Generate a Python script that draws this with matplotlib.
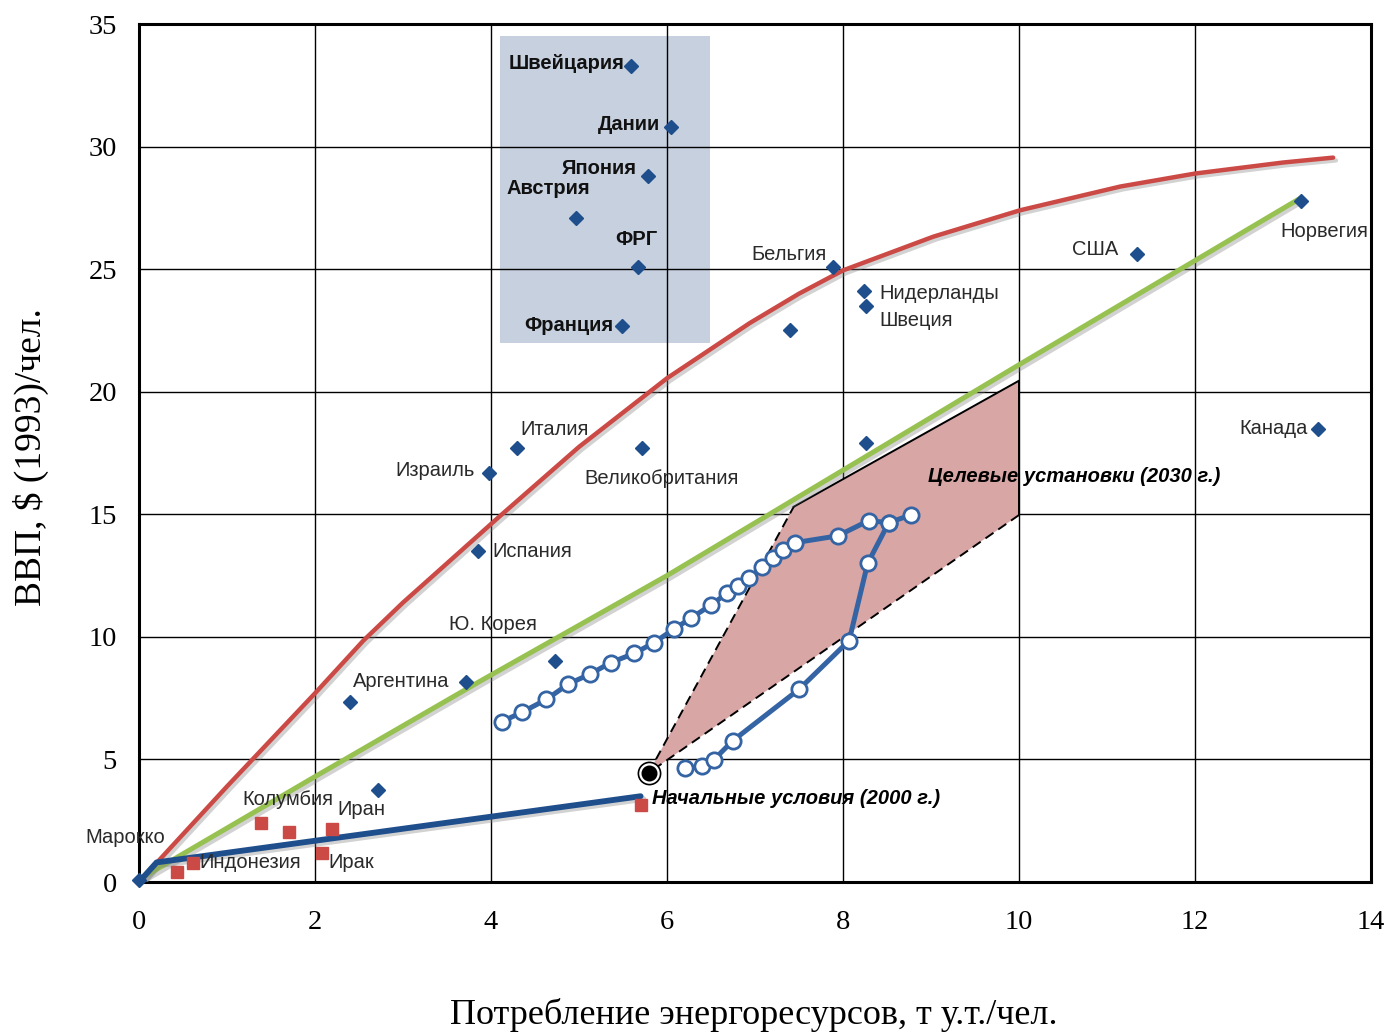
import numpy as np
import matplotlib
matplotlib.use('Agg')
import matplotlib.pyplot as plt
import matplotlib.patches as patches
import matplotlib.patheffects as pe

# --- data ---
# red curve (upper envelope)
red_x = [0, 1, 2, 2.55, 3, 3.5, 4.08, 5, 6, 6.94, 7.5, 8, 9.03, 10.01, 11.15, 12, 13, 13.57]
red_y = [0, 3.9, 7.7, 9.85, 11.4, 13.0, 14.86, 17.75, 20.55, 22.8, 24.0, 24.95, 26.33, 27.4, 28.37, 28.9, 29.35, 29.55]
# green line
green_x = [0, 2, 3.88, 6, 8, 10, 13.2]
green_y = [0.1, 4.3, 8.2, 12.5, 16.8, 21.1, 27.9]
# blue straight line
blue_x = [0, 0.2, 5.7]
blue_y = [0, 0.8, 3.5]

# blue diamonds (countries)
diam_x = [5.59, 6.05, 5.78, 4.97, 5.67, 5.49, 7.89, 7.40, 8.24, 8.26, 11.34, 13.21, 13.40,
          8.26, 4.29, 5.72, 3.98, 3.85, 4.73, 3.72, 2.40, 2.72, 0.0]
diam_y = [33.3, 30.8, 28.8, 27.1, 25.1, 22.7, 25.1, 22.5, 24.1, 23.5, 25.6, 27.8, 18.5,
          17.9, 17.7, 17.7, 16.7, 13.5, 9.0, 8.17, 7.36, 3.75, 0.1]
# red squares (developing countries)
sq_x = [1.39, 1.70, 2.19, 2.08, 0.43, 0.61, 5.70]
sq_y = [2.42, 2.05, 2.15, 1.20, 0.42, 0.79, 3.14]

# trajectories (open circles)
traj1_x = [4.12, 4.35, 4.63, 4.88, 5.13, 5.36, 5.63, 5.85, 6.08, 6.27, 6.50, 6.68, 6.81, 6.93,
           7.08, 7.20, 7.32, 7.45, 7.94, 8.29, 8.52, 8.77]
traj1_y = [6.54, 6.92, 7.45, 8.08, 8.49, 8.95, 9.33, 9.76, 10.32, 10.76, 11.30, 11.78, 12.08, 12.39,
           12.84, 13.21, 13.55, 13.84, 14.12, 14.74, 14.66, 14.97]
traj2_x = [6.21, 6.40, 6.53, 6.75, 7.50, 8.07, 8.28, 8.52]
traj2_y = [4.64, 4.73, 4.98, 5.77, 7.86, 9.85, 13.0, 14.66]

start_pt = (5.79, 4.45)
# target region (2030)
target_x = [5.79, 7.44, 10.0, 10.0]
target_y = [4.45, 15.31, 20.45, 14.97]

# labels: text, x, y, ha, bold
labels = [
    ('Швейцария', 5.52, 33.4, 'right', True),
    ('Дании', 5.92, 30.9, 'right', True),
    ('Япония', 5.65, 29.1, 'right', True),
    ('Австрия', 4.18, 28.3, 'left', True),
    ('ФРГ', 5.89, 26.2, 'right', True),
    ('Франция', 5.39, 22.7, 'right', True),
    ('Бельгия', 7.81, 25.6, 'right', False),
    ('Нидерланды', 8.41, 24.0, 'left', False),
    ('Швеция', 8.41, 22.9, 'left', False),
    ('США', 11.13, 25.8, 'right', False),
    ('Норвегия', 12.97, 26.55, 'left', False),
    ('Канада', 13.28, 18.48, 'right', False),
    ('Италия', 4.33, 18.44, 'left', False),
    ('Израиль', 3.82, 16.77, 'right', False),
    ('Великобритания', 5.06, 16.48, 'left', False),
    ('Испания', 4.02, 13.5, 'left', False),
    ('Ю. Корея', 3.52, 10.49, 'left', False),
    ('Аргентина', 2.43, 8.16, 'left', False),
    ('Колумбия', 1.18, 3.35, 'left', False),
    ('Иран', 2.25, 2.94, 'left', False),
    ('Марокко', -0.61, 1.8, 'left', False),
    ('Индонезия', 0.69, 0.78, 'left', False),
    ('Ирак', 2.15, 0.78, 'left', False),
]

serif = 'Liberation Serif'
sans = 'Liberation Sans'
dblue = '#1f4e8c'
tblue = '#3464a4'

fig = plt.figure(figsize=(13.93, 10.35), dpi=100)
ax = fig.add_axes([0.0998, 0.1478, 0.8844, 0.829])
ax.set_xlim(0, 14)
ax.set_ylim(0, 35)
ax.set_xticks(np.arange(0, 15, 2))
ax.set_yticks(np.arange(0, 36, 5))
ax.grid(True, color='black', lw=1.0)
ax.set_axisbelow(True)
for s in ax.spines.values():
    s.set_linewidth(2.2)
ax.tick_params(length=0, labelsize=20.5)
ax.tick_params(axis='x', pad=20)
ax.tick_params(axis='y', pad=16)
for t in ax.get_xticklabels() + ax.get_yticklabels():
    t.set_fontfamily(serif)

shadow = [pe.SimpleLineShadow(offset=(2, -2), shadow_color='gray', alpha=0.35), pe.Normal()]

# shaded box of developed compact economies
ax.add_patch(patches.Rectangle((4.10, 22.0), 2.39, 12.5, facecolor='#c6d0de',
                               edgecolor='none', zorder=0.4))

# target region
poly = list(zip(target_x, target_y))
ax.add_patch(patches.Polygon(poly, closed=True, facecolor='#d9a6a6', edgecolor='none', zorder=1.5))
ax.plot([target_x[0], target_x[1]], [target_y[0], target_y[1]], ls=(0, (5, 3)), color='black', lw=1.4, zorder=1.6)
ax.plot([target_x[1], target_x[2], target_x[3]], [target_y[1], target_y[2], target_y[3]], color='black', lw=1.4, zorder=1.6)
ax.plot([target_x[3], target_x[0]], [target_y[3], target_y[0]], ls=(0, (5, 3)), color='black', lw=1.4, zorder=1.6)

ax.plot(red_x, red_y, color='#cc4a46', lw=3.2, zorder=3, path_effects=shadow,
        solid_capstyle='round', solid_joinstyle='round')
ax.plot(green_x, green_y, color='#97c150', lw=3.6, zorder=3, path_effects=shadow, solid_capstyle='round')
ax.plot(blue_x, blue_y, color=dblue, lw=4.2, zorder=3, path_effects=shadow, solid_capstyle='round')

ax.plot(diam_x, diam_y, ls='none', marker='D', ms=7.5, color=dblue, zorder=4, clip_on=False)
ax.plot(sq_x, sq_y, ls='none', marker='s', ms=8.5, color='#cc4a46', zorder=4)

ax.plot(traj1_x, traj1_y, color=tblue, lw=3.6, marker='o', ms=11, mfc='white', mec=tblue, mew=2, zorder=5)
ax.plot(traj2_x, traj2_y, color=tblue, lw=3.6, marker='o', ms=11, mfc='white', mec=tblue, mew=2, zorder=5)

ax.plot(*start_pt, marker='o', ms=16, mfc='white', mec='black', mew=1.2, zorder=6)
ax.plot(*start_pt, marker='o', ms=10.5, color='black', zorder=6)

for text, x, y, ha, bold in labels:
    ax.text(x, y, text, ha=ha, va='center', fontsize=14.5, family=sans,
            fontweight='bold' if bold else 'normal', color='#111111' if bold else '#2a2a2a', zorder=7)

ax.text(5.83, 3.39, 'Начальные условия (2000 г.)', fontsize=14.5, family=sans, fontweight='bold',
        style='italic', va='center', ha='left', zorder=7)
ax.text(8.97, 16.56, 'Целевые установки (2030 г.)', fontsize=14.5, family=sans, fontweight='bold',
        style='italic', va='center', ha='left', zorder=7)

fig.text(0.0225, 0.558, 'ВВП, $ (1993)/чел.', rotation=90, ha='center', va='center',
         fontsize=27, family=serif)
fig.text(0.541, 0.0193, 'Потребление энергоресурсов, т у.т./чел.', ha='center', va='center',
         fontsize=26, family=serif)

fig.savefig('out.png', dpi=100)
